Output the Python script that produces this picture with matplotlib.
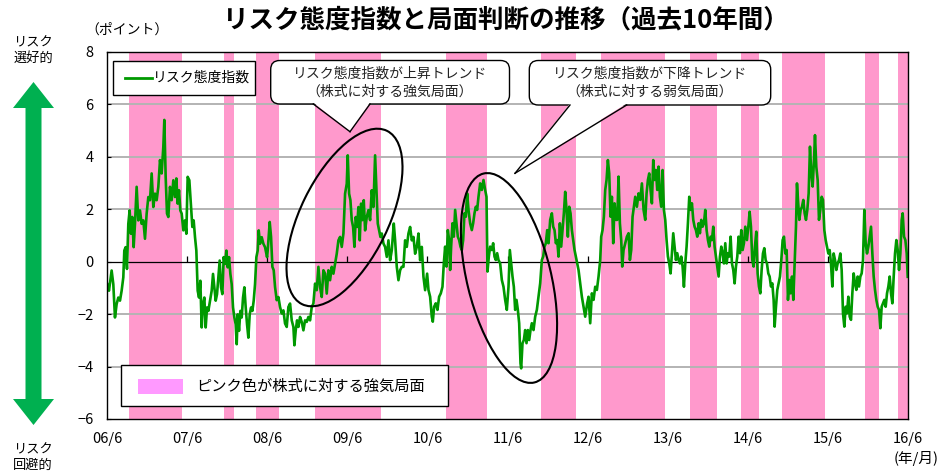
"""Risk attitude index vs. market phase (past 10 years)."""

import matplotlib

matplotlib.use("Agg")

import matplotlib.pyplot as plt  # noqa: E402
from matplotlib.lines import Line2D  # noqa: E402
from matplotlib.patches import Ellipse, FancyBboxPatch, Polygon, Rectangle  # noqa: E402
from matplotlib.transforms import IdentityTransform  # noqa: E402

plt.rcParams["font.family"] = ["Noto Sans CJK JP", "DejaVu Sans"]

# ---- data -----------------------------------------------------------------
# months elapsed since 2006/6, index value (points)
index_month = [
    0.00, 0.25, 0.65, 0.90, 1.15, 1.40, 1.65, 1.90, 2.15, 2.40, 2.55, 2.75, 2.95, 3.15, 3.35, 3.55,
    3.75, 3.95, 4.15, 4.40, 4.65, 4.90, 5.15, 5.40, 5.65, 5.90, 6.15, 6.40, 6.65, 6.90, 7.15, 7.40,
    7.65, 7.90, 8.15, 8.40, 8.55, 8.75, 8.95, 9.15, 9.40, 9.65, 9.90, 10.15, 10.35, 10.55, 10.75,
    10.95, 11.15, 11.40, 11.65, 11.85, 12.05, 12.30, 12.55, 12.75, 12.95, 13.15, 13.35, 13.55,
    13.75, 13.95, 14.15, 14.35, 14.55, 14.75, 14.95, 15.15, 15.40, 15.65, 15.85, 16.05, 16.25,
    16.45, 16.65, 16.85, 17.05, 17.25, 17.45, 17.65, 17.85, 18.05, 18.25, 18.45, 18.65, 18.85,
    19.05, 19.25, 19.40, 19.55, 19.75, 19.95, 20.15, 20.35, 20.55, 20.75, 20.95, 21.15, 21.35,
    21.55, 21.75, 21.95, 22.15, 22.35, 22.55, 22.70, 22.90, 23.15, 23.40, 23.65, 23.95,
    24.05, 24.35, 24.55, 24.75, 24.95, 25.15, 25.40, 25.65, 25.90, 26.15, 26.40, 26.65, 26.90,
    27.15, 27.40, 27.65, 27.90, 28.05, 28.25, 28.45, 28.65, 28.90, 29.15, 29.40, 29.65, 29.90,
    30.15, 30.40, 30.65, 30.90, 31.15, 31.40, 31.65, 31.90, 32.15, 32.40, 32.65, 32.90, 33.15,
    33.40, 33.65, 33.90, 34.15, 34.40, 34.65, 34.90, 35.15, 35.40, 35.65, 35.90, 36.05, 36.25,
    36.45, 36.65, 36.85, 37.05, 37.25, 37.45, 37.65, 37.85, 38.05, 38.25, 38.45, 38.65, 38.90,
    39.15, 39.40, 39.65, 39.90, 40.15, 40.35, 40.55, 40.75, 40.95, 41.15, 41.40, 41.65, 41.90,
    42.15, 42.40, 42.65, 42.95, 43.15, 43.40, 43.65, 43.90, 44.15, 44.40, 44.65, 44.90, 45.15,
    45.40, 45.65, 45.90, 46.15, 46.40, 46.65, 46.90, 47.15, 47.40, 47.65, 47.95,
    48.15, 48.40, 48.65, 48.80, 49.00, 49.25, 49.50, 49.75, 50.00, 50.25, 50.45, 50.65, 50.85,
    51.05, 51.25, 51.40, 51.55, 51.75, 51.95, 52.15, 52.35, 52.55, 52.75, 52.95, 53.15, 53.35,
    53.55, 53.75, 53.95, 54.15, 54.40, 54.65, 54.85, 55.05, 55.25, 55.45, 55.65, 55.90, 56.15,
    56.40, 56.65, 56.85, 57.00, 57.20, 57.40, 57.65, 57.85, 58.05, 58.25, 58.45, 58.65, 58.90,
    59.15, 59.40, 59.65, 59.90, 60.15, 60.35, 60.55, 60.75, 60.95, 61.15, 61.35, 61.55, 61.75,
    61.95, 62.05, 62.25, 62.45, 62.65, 62.85, 63.05, 63.25, 63.45, 63.65, 63.90, 64.15, 64.40,
    64.65, 64.90, 65.15, 65.35, 65.55, 65.75, 65.95, 66.15, 66.40, 66.65, 66.85, 67.05, 67.25,
    67.45, 67.65, 67.85, 68.05, 68.25, 68.45, 68.65, 68.85, 69.05, 69.25, 69.45, 69.65, 69.85,
    70.05, 70.25, 70.45, 70.65, 70.90, 71.15, 71.40, 71.65, 71.95,
    72.15, 72.40, 72.65, 72.90, 73.15, 73.40, 73.65, 73.90, 74.05, 74.25, 74.45, 74.65, 74.85,
    75.05, 75.25, 75.45, 75.65, 75.85, 76.05, 76.25, 76.45, 76.65, 76.85, 77.05, 77.20, 77.40,
    77.65, 77.90, 78.15, 78.35, 78.55, 78.75, 78.95, 79.15, 79.40, 79.65, 79.90, 80.15, 80.40,
    80.65, 80.85, 81.05, 81.25, 81.45, 81.65, 81.85, 82.05, 82.25, 82.45, 82.65, 82.85, 83.05,
    83.25, 83.45, 83.65, 83.85, 84.05, 84.25, 84.45, 84.65, 84.85, 85.05, 85.25, 85.45, 85.65,
    85.85, 86.05, 86.25, 86.45, 86.65, 86.85, 87.05, 87.25, 87.45, 87.65, 87.85, 88.05, 88.25,
    88.45, 88.65, 88.85, 89.05, 89.25, 89.45, 89.65, 89.85, 90.05, 90.25, 90.45, 90.65, 90.85,
    91.05, 91.25, 91.45, 91.65, 91.85, 92.05, 92.25, 92.45, 92.65, 92.85, 93.05, 93.25, 93.45,
    93.65, 93.85, 94.05, 94.25, 94.45, 94.65, 94.85, 95.05, 95.25, 95.45, 95.65,
    95.90, 96.15, 96.30, 96.50, 96.70, 96.90, 97.10, 97.30, 97.50, 97.70, 97.90, 98.10, 98.30,
    98.50, 98.70, 98.90, 99.10, 99.30, 99.50, 99.70, 99.90, 100.05, 100.25, 100.45, 100.65,
    100.85, 101.05, 101.25, 101.45, 101.65, 101.85, 102.05, 102.25, 102.45, 102.65, 102.85,
    103.05, 103.25, 103.40, 103.55, 103.75, 103.95, 104.15, 104.35, 104.55, 104.75, 104.95,
    105.15, 105.35, 105.55, 105.75, 105.95, 106.10, 106.30, 106.50, 106.70, 106.90, 107.10,
    107.30, 107.50, 107.70, 107.90, 108.10, 108.30, 108.50, 108.70, 108.90, 109.10, 109.30,
    109.50, 109.70, 109.90, 110.10, 110.30, 110.50, 110.70, 110.90, 111.10, 111.30, 111.50,
    111.70, 111.90, 112.10, 112.30, 112.50, 112.70, 112.90, 113.10, 113.30, 113.50, 113.70,
    113.90, 114.10, 114.30, 114.50, 114.70, 114.90, 115.10, 115.30, 115.50, 115.70, 115.90,
    116.10, 116.30, 116.50, 116.70, 116.90, 117.10, 117.30, 117.50, 117.70, 117.90, 118.10,
    118.30, 118.50, 118.70, 118.90, 119.10, 119.25, 119.45, 119.65, 119.85, 120.00,
]
index_value = [
    -0.86, -1.11, -0.34, -0.86, -2.13, -1.62, -1.37, -1.49, -1.11, -0.60, 0.42, 0.55, -0.28, 1.44,
    1.95, 1.06, 1.70, 0.55, 1.44, 2.85, 1.57, 1.95, 1.44, 1.57, 0.87, 1.83, 2.46, 2.34, 3.36, 2.08,
    2.59, 2.34, 2.85, 3.87, 3.36, 4.38, 5.40, 3.23, 1.83, 1.70, 2.85, 2.34, 3.10, 2.46, 3.17, 2.21,
    2.72, 1.95, 1.83, 1.19, 1.57, 1.06, 3.23, 3.10, 2.08, 1.32, 1.57, 0.93, 0.42, -1.11, -1.37,
    -0.73, -2.51, -1.62, -1.37, -2.51, -1.75, -1.88, -1.49, -1.11, -0.47, -0.98, -1.49, -1.24,
    -0.60, 0.04, -0.98, -1.24, 0.17, -0.09, 0.42, -0.22, 0.17, -0.47, -0.86, -1.75, -2.13, -2.39,
    -3.15, -2.01, -2.64, -1.88, -2.13, -1.37, -0.98, -1.75, -2.39, -2.90, -2.01, -1.75, -1.88,
    -1.49, -0.86, 0.17, 0.42, 1.19, 0.68, 0.93, 0.68, 0.55, 0.17,
    0.43, 1.51, 0.94, -0.20, -0.33, -0.97, -1.47, -1.35, -1.73, -1.98, -1.86, -2.36, -2.49, -1.73,
    -1.60, -2.24, -2.49, -3.19, -2.62, -2.24, -2.49, -2.11, -2.30, -2.62, -2.24, -2.30, -2.11,
    -2.24, -1.73, -1.60, -0.84, -1.09, -0.20, -0.97, -1.35, -0.33, -0.46, -1.22, -0.33, -0.71,
    -0.20, -0.46, -0.08, 0.30, 0.81, 0.94, 0.56, 1.07, 2.59, 2.97, 4.05, 2.59, 2.34, 1.58, 1.32,
    0.56, 1.70, 1.32, 2.08, 0.81, 2.21, 1.58, 2.34, 1.19, 1.70, 1.96, 1.58, 2.72, 2.08, 4.05, 2.72,
    1.45, 1.19, 0.94, 1.07, 0.69, 0.56, 0.18, 0.81, 0.05, 0.43, 1.45, 0.81, -0.20, -0.71, -0.33,
    -0.20, -0.20, 0.81, 0.56, 1.07, 1.32, 0.81, 0.94, 0.30, 0.56, 1.07, 0.05, 0.56, -0.58, -1.09,
    -0.46,
    -1.08, -1.34, -2.10, -2.29, -1.72, -1.59, -1.84, -1.34, -1.21, -0.96, -0.07, 0.57, -0.19, 1.20,
    0.82, -0.32, 0.57, 1.46, 0.95, 1.97, 1.46, 0.95, 0.82, 0.57, 0.44, 0.82, 1.84, 1.71, 2.60, 1.97,
    1.46, 1.20, 1.46, 1.84, 2.09, 1.97, 2.47, 2.98, 2.73, 3.11, 2.73, 2.47, -0.38, 0.19, 0.57, 0.44,
    0.70, 0.19, 0.06, 0.32, 0.06, -0.07, -0.70, -0.96, -1.46, -1.84, -0.96, 0.44, -0.07, -0.57,
    -0.96, -1.84, -1.46, -1.84, -2.35, -3.88, -4.07, -3.11, -2.99, -2.61, -3.11, -2.61, -2.99,
    -2.61, -2.35, -2.61, -2.10, -1.84, -1.34, -0.83, 0.06, 0.19, 0.57, 0.70, 1.20, 0.70, 1.59, 1.84,
    1.33, 1.20, 0.70, 0.82, 0.19, 1.46, 0.57, 1.20, 1.84, 2.66, 1.97, 0.95, 2.09, 1.84, 1.20, 0.82,
    0.44, 0.19, -0.07, -0.32, -0.83, -1.34, -1.72, -2.10, -1.59,
    -1.34, -2.35, -1.21, -1.46, -0.96, -1.08, -0.57, 0.06, 0.95, 1.20, 1.71, 2.73, 3.11, 3.87, 3.36,
    1.71, 2.47, 0.70, 2.22, 1.59, 1.59, 3.24, 1.46, 0.82, -0.19, 0.44, 0.70, 0.95, 1.08, 0.06, 0.44,
    1.71, 2.09, 2.47, 2.09, 2.60, 2.35, 2.98, 1.97, 1.59, 2.60, 3.11, 3.36, 2.73, 2.22, 3.87, 3.11,
    3.49, 2.73, 3.62, 2.47, 2.09, 3.49, 1.97, 1.59, 0.82, 0.19, -0.07, -0.45, 0.32, 1.08, 0.57,
    0.06, 0.32, 0.06, -0.07, 0.19, -0.19, -0.96, -0.07, 0.57, 1.46, 2.47, 1.97, 2.22, 1.59, 1.33,
    1.20, 0.95, 1.46, 1.08, 1.59, 1.33, 1.46, 1.97, 1.20, 0.82, 0.57, 0.95, 0.82, 1.33, 0.57, 0.19,
    -0.19, -0.57, 0.19, 0.57, 0.32, -0.07, 0.70, -0.07, 0.32, 0.19, 0.95, -0.07, -0.32, -0.83,
    -0.19, 0.19, 0.95, 0.32, 1.20, 0.44, 0.70, 1.33,
    0.82, 1.45, 1.90, 1.33, 0.06, -0.19, 0.57, 1.14, -0.45, -0.95, -1.21, -0.32, 0.31, 0.51, 0.06,
    -0.07, -0.45, -0.57, -0.95, -0.83, -1.46, -2.48, -1.72, -1.08, -0.83, -0.57, 0.06, 0.82, 0.95,
    0.31, 0.44, -1.46, -0.70, -1.21, -0.57, -1.46, -0.07, 1.33, 2.98, 2.35, 1.59, 1.97, 2.09, 2.35,
    1.84, 1.59, 1.97, 2.60, 4.38, 3.36, 2.86, 3.87, 4.82, 3.61, 3.11, 1.59, 1.97, 2.47, 2.35, 1.20,
    0.82, 0.57, 0.31, 0.44, -0.07, -0.95, 0.31, 0.06, -0.32, -0.07, 0.06, 0.31, -0.32, -1.97,
    -2.48, -1.72, -1.97, -1.34, -2.10, -2.22, -1.21, -0.45, -0.83, -1.08, -0.57, -0.95, -0.57,
    -0.45, 0.06, 1.97, 0.70, 0.31, 0.57, 0.95, 1.33, 0.31, -0.57, -1.08, -1.46, -1.72, -1.84,
    -2.54, -1.72, -1.59, -1.46, -1.72, -1.21, -0.95, -0.57, -1.21, -1.59, -0.57, 0.31, 0.82, 0.44,
    -0.32, 0.31, 1.58, 1.84, 0.95, 0.82, 0.31, -0.58,
]

# pink bands: risk-on (bullish on equities) phases, months since 2006/6
bull_start = [3.3, 17.5, 22.35, 31.2, 50.8, 65.05, 74.05, 87.35, 95.05, 101.2, 113.55, 118.5]
bull_end = [11.2, 19.0, 25.75, 41.1, 57.0, 70.3, 83.65, 91.35, 97.75, 107.6, 115.75, 120.0]

tick_months = list(range(0, 121, 12))
tick_labels = [f"{y:02d}/6" for y in range(6, 17)]

GREEN = "#009900"
PINK = "#ff99cc"
W, H = 947, 472


def px(x, y):
    """image pixel (origin top-left) -> display coords"""
    return (x, H - y)


fig = plt.figure(figsize=(W / 100, H / 100), dpi=100)
ax = fig.add_axes([107.3 / W, (H - 419) / H, 800.4 / W, 367.3 / H])

for s, e in zip(bull_start, bull_end):
    ax.axvspan(s, e, color=PINK, lw=0, zorder=0.5)

for v in (-4, -2, 2, 4, 6):
    ax.axhline(v, color="#b3b3b3", lw=1.4, zorder=1)
ax.axhline(0, color="black", lw=0.9, zorder=1.5)
ax.vlines(tick_months[1:-1], 0, 0.2, color="black", lw=0.9, zorder=1.5)

ax.plot(index_month, index_value, color=GREEN, lw=1.9, zorder=2)

ax.set_xlim(0, 120)
ax.set_ylim(-6, 8)
ax.set_yticks(range(-6, 9, 2))
ax.set_xticks(tick_months)
ax.set_xticklabels(tick_labels)
ax.tick_params(axis="x", length=0, pad=9, labelsize=10.5)
ax.tick_params(axis="y", direction="in", length=3, pad=10, labelsize=10.5)
for sp in ax.spines.values():
    sp.set_color("black")
    sp.set_linewidth(1.0)

ident = IdentityTransform()

# title and axis captions
fig.text(506 / W, 1 - 20 / H, "リスク態度指数と局面判断の推移（過去10年間）",
         ha="center", va="center", fontsize=18.4, fontweight="bold")
fig.text(127 / W, 1 - 30 / H, "（ポイント）", ha="center", va="center", fontsize=10)
fig.text(916 / W, 1 - 458 / H, "(年/月)", ha="center", va="center", fontsize=10.5)
fig.text(33 / W, 1 - 51 / H, "リスク\n選好的", ha="center", va="center",
         fontsize=9.5, linespacing=1.25)
fig.text(33 / W, 1 - 458 / H, "リスク\n回避的", ha="center", va="center",
         fontsize=9.5, linespacing=1.25)

# green double arrow on the left
cx, top, bot = 33.5, 82, 425
hw, sw, hl = 20.5, 8, 26
arrow_pts = [
    (cx, top), (cx + hw, top + hl), (cx + sw, top + hl), (cx + sw, bot - hl), (cx + hw, bot - hl),
    (cx, bot), (cx - hw, bot - hl), (cx - sw, bot - hl), (cx - sw, top + hl), (cx - hw, top + hl),
]
fig.add_artist(Polygon([px(*p) for p in arrow_pts], closed=True, fc="#00b050", ec="none",
                       transform=ident))

# legend box: line
fig.add_artist(Rectangle(px(112.7, 95), 142.3, 34.3, fc="white", ec="black", lw=1,
                         transform=ident, zorder=3))
fig.add_artist(Line2D([px(125, 0)[0], px(152, 0)[0]], [H - 78, H - 78], color=GREEN, lw=2,
                      transform=ident, zorder=4))
fig.text(153 / W, 1 - 78 / H, "リスク態度指数", ha="left", va="center", fontsize=10, zorder=4)

# legend box: pink band
fig.add_artist(Rectangle(px(121, 405.7), 326.7, 40.7, fc="white", ec="black", lw=1,
                         transform=ident, zorder=3))
fig.add_artist(Rectangle(px(138, 394), 45, 15, fc="#ff99ff", ec="none", transform=ident,
                         zorder=4))
fig.text(196 / W, 1 - 386 / H, "ピンク色が株式に対する強気局面", ha="left", va="center",
         fontsize=11, zorder=4)

# ellipses around the trend phases
fig.add_artist(Ellipse(px(344.5, 217.5), 193, 88, angle=63.9, fill=False, ec="black", lw=1.5,
                       transform=ident, zorder=3))
fig.add_artist(Ellipse(px(509, 278), 215, 84, angle=103.7, fill=False, ec="black", lw=1.5,
                       transform=ident, zorder=3))


def callout(x0, y0, x1, y1, base_l, base_r, tip, lines):
    fig.add_artist(FancyBboxPatch(px(x0, y1), x1 - x0, y1 - y0,
                                  boxstyle="round,pad=0,rounding_size=9", fc="white",
                                  ec="black", lw=1, transform=ident, zorder=3))
    tail = [px(base_l, y1 - 1.5), px(*tip), px(base_r, y1 - 1.5)]
    fig.add_artist(Polygon(tail, closed=True, fc="white", ec="none", transform=ident,
                           zorder=3.5))
    for b in (base_l, base_r):
        a, c = px(b, y1), px(*tip)
        fig.add_artist(Line2D([a[0], c[0]], [a[1], c[1]], color="black", lw=1,
                              transform=ident, zorder=3.6))
    xm = (x0 + x1) / 2
    fig.text(xm / W, 1 - (y0 + 13) / H, lines[0], ha="center", va="center", fontsize=10,
             color="#222222", zorder=4)
    fig.text(xm / W, 1 - (y0 + 31) / H, lines[1], ha="center", va="center", fontsize=10,
             color="#222222", zorder=4)


callout(270.7, 60.5, 509.5, 104, 313.3, 370, (350, 131.7),
        ["リスク態度指数が上昇トレンド", "（株式に対する強気局面）"])
callout(529.3, 60.5, 770.7, 105, 570, 626.7, (515, 173.3),
        ["リスク態度指数が下降トレンド", "（株式に対する弱気局面）"])

fig.savefig("out.png", dpi=100)
plt.close(fig)
